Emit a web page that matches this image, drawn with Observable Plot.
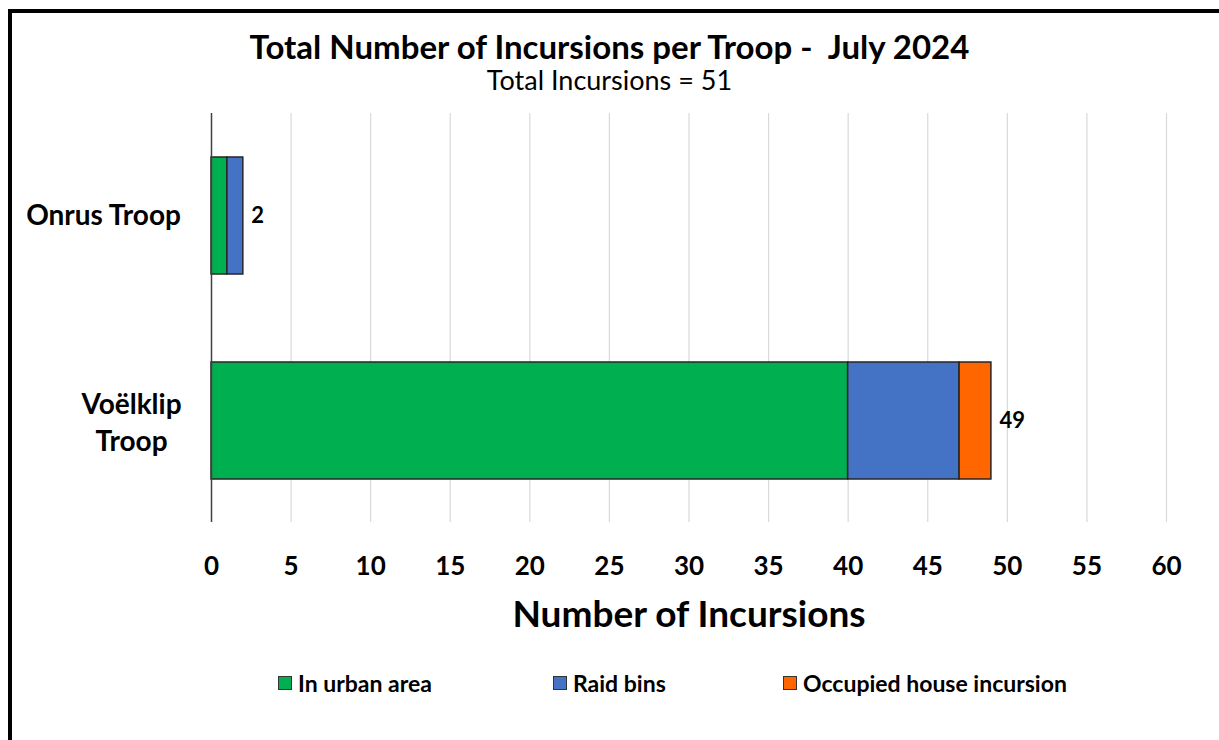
<!DOCTYPE html>
<html>
<head>
<meta charset="utf-8">
<script src="https://cdn.jsdelivr.net/npm/d3@7"></script>
<script src="https://cdn.jsdelivr.net/npm/@observablehq/plot@0.6"></script>
<style>
  html, body { margin: 0; padding: 0; background: #fff; }
  #page { position: relative; width: 1219px; height: 740px; overflow: hidden; font-family: Lato, "Open Sans", sans-serif; }
  #frameTop { position: absolute; left: 8px; top: 9px; width: 1211px; height: 4px; background: #000; }
  #frameLeft { position: absolute; left: 8px; top: 9px; width: 4px; height: 731px; background: #000; }
  #title { position: absolute; left: 0; width: 1219px; top: 26px; text-align: center; font-weight: 700; font-size: 33px; line-height: 40px; color: #000; }
  #subtitle { position: absolute; left: 0; width: 1219px; top: 63px; text-align: center; font-size: 27px; line-height: 34px; color: #000; }
  #chart { position: absolute; left: 0; top: 100px; }
  #legend { position: absolute; top: 669px; left: 0; width: 1219px; height: 28px; font-weight: 700; font-size: 23px; color: #000; }
  .item { position: absolute; top: 0; display: flex; align-items: center; height: 28px; }
  .sw { width: 12px; height: 12px; border: 1.5px solid #333; margin-right: 6px; }
</style>
</head>
<body>
<div id="page">
  <div id="frameTop"></div>
  <div id="frameLeft"></div>
  <div id="title">Total Number of Incursions per Troop -&nbsp; July 2024</div>
  <div id="subtitle">Total Incursions = 51</div>
  <div id="chart"></div>
  <div id="legend"></div>
</div>
<script>
const troops = ["Onrus Troop", "Voëlklip Troop"];
const series = ["In urban area", "Raid bins", "Occupied house incursion"];
const inUrbanArea = [1, 40];
const raidBins = [1, 7];
const occupiedHouse = [0, 2];
const totals = [2, 49];
const colors = ["#00B050", "#4472C4", "#FF6600"];
const xTicks = [0, 5, 10, 15, 20, 25, 30, 35, 40, 45, 50, 55, 60];

const valuesBySeries = [inUrbanArea, raidBins, occupiedHouse];
const table = [];
troops.forEach((t, i) => {
  series.forEach((s, j) => {
    table.push({troop: t, series: s, value: valuesBySeries[j][i]});
  });
});
const totalRows = troops.map((t, i) => ({troop: t, total: totals[i]}));

const chart = Plot.plot({
  width: 1219,
  height: 560,
  marginLeft: 211,
  marginRight: 53,
  marginTop: 13,
  marginBottom: 138,
  style: {fontFamily: "Lato, 'Open Sans', sans-serif", background: "transparent"},
  x: {domain: [0, 60], ticks: xTicks, label: null},
  y: {domain: troops, paddingInner: 0.43, paddingOuter: 0.21, label: null, axis: null},
  color: {domain: series, range: colors},
  marks: [
    Plot.gridX(xTicks.filter(d => d > 0), {stroke: "#d9d9d9", strokeOpacity: 1, strokeWidth: 1.2}),
    Plot.barX(table, {x: "value", y: "troop", fill: "series", stroke: "#262626", strokeWidth: 1.5, order: null}),
    Plot.ruleX([0], {stroke: "#404040", strokeWidth: 1.5}),
    Plot.ruleY([0], {frameAnchor: "bottom", stroke: "#595959", strokeWidth: 1.5}),
    Plot.axisX({ticks: xTicks, tickSize: 0, tickPadding: 34, fontSize: 26, fontWeight: 700, fill: "#000", label: null}),
    Plot.text(["Number of Incursions"], {frameAnchor: "bottom", dy: 104, fontSize: 37, fontWeight: 700, fill: "#000"}),
    Plot.text(totalRows, {x: "total", y: "troop", text: d => String(d.total), textAnchor: "start", dx: 8, fontSize: 22, fontWeight: 700, fill: "#000"}),
    Plot.text([troops[0]], {x: 0, y: d => d, text: d => d, textAnchor: "middle", dx: -108, fontSize: 28, fontWeight: 700, fill: "#000"}),
    Plot.text([troops[1]], {x: 0, y: d => d, text: d => d.replace(" ", "\n"), textAnchor: "middle", dx: -80, lineHeight: 1.3, fontSize: 28, fontWeight: 700, fill: "#000"})
  ]
});
document.getElementById("chart").appendChild(chart);

const legendX = [278, 553, 783];
const legend = document.getElementById("legend");
series.forEach((s, i) => {
  const item = document.createElement("div");
  item.className = "item";
  item.style.left = legendX[i] + "px";
  const sw = document.createElement("div");
  sw.className = "sw";
  sw.style.background = colors[i];
  item.appendChild(sw);
  const label = document.createElement("span");
  label.textContent = s;
  item.appendChild(label);
  legend.appendChild(item);
});
</script>
</body>
</html>
